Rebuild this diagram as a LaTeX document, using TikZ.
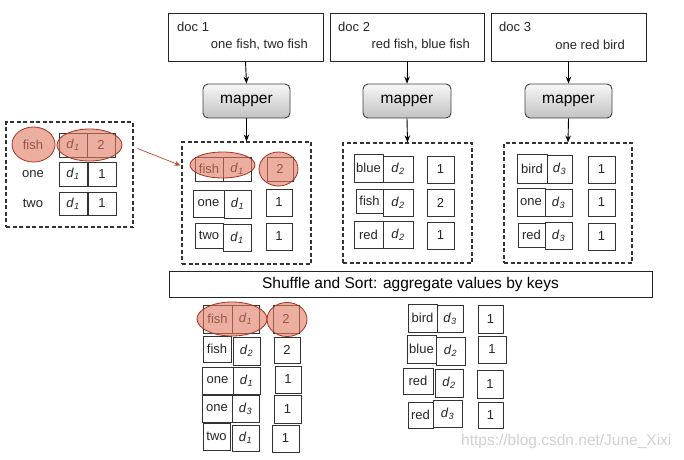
\documentclass[tikz,border=0pt]{standalone}
\usepackage{fontspec}
\setmainfont{Liberation Sans}
\usetikzlibrary{shapes.geometric,arrows.meta,calc}
\newcommand\dd[1]{\textit{d}\textsubscript{\textit{#1}}}
\newcommand\cellat[6]{\node[cellbox, minimum width={(#4)-(#2)}, minimum height={(#5)-(#3)}] (#1) at ({((#2)+(#4))/2},{((#3)+(#5))/2}) {#6};}
\newcommand\rectat[6]{\node[#6, minimum width={(#4)-(#2)}, minimum height={(#5)-(#3)}] (#1) at ({((#2)+(#4))/2},{((#3)+(#5))/2}) {};}
\newcommand\hiell[5]{\node[hiellipse, minimum width=#4, minimum height=#5] (#1) at (#2,#3) {};}
\tikzset{
  cellbox/.style={draw=black!80, line width=0.8pt, inner sep=0pt, fill=white,
    font=\fontsize{13}{15}\selectfont, text=black!85},
  docbox/.style={draw=black!85, line width=0.9pt, inner sep=0pt, fill=white},
  mapperbox/.style={draw=black!75, line width=0.9pt, rounded corners=5pt, inner sep=0pt,
    top color=gray!6, bottom color=gray!48, font=\fontsize{15.5}{18}\selectfont},
  dashbox/.style={draw=black!80, line width=1.1pt, dash pattern=on 4pt off 2.5pt, inner sep=0pt},
  shufbox/.style={draw=black!85, line width=0.9pt, inner sep=0pt, fill=white},
  hiellipse/.style={ellipse, draw={rgb,255:red,165;green,50;blue,30}, line width=0.8pt,
    fill={rgb,255:red,222;green,120;blue,95}, fill opacity=0.6, inner sep=0pt},
  plaintext/.style={inner sep=0pt, font=\fontsize{13}{15}\selectfont, text=black!85},
  doctext/.style={inner sep=0pt, font=\fontsize{13}{15}\selectfont, text=black!85},
  flow/.style={-{Stealth[length=7pt,width=5.5pt]}, line width=0.9pt, draw=black},
}
\begin{document}
\begin{tikzpicture}[x=1pt,y=-1pt]
\useasboundingbox[fill=white] (0,0) rectangle (684,459);

% documents
\rectat{doc1}{168}{13}{323}{61}{docbox}
\rectat{doc2}{330}{13}{484}{61}{docbox}
\rectat{doc3}{491}{13}{646}{61}{docbox}
\node[doctext, anchor=west] (doc1t) at (177,27) {doc 1};
\node[doctext, anchor=east] (doc1s) at (308,45) {one fish, two fish};
\node[doctext, anchor=west] (doc2t) at (338,27) {doc 2};
\node[doctext, anchor=east] (doc2s) at (470,45) {red fish, blue fish};
\node[doctext, anchor=west] (doc3t) at (499,27) {doc 3};
\node[doctext, anchor=east] (doc3s) at (625,45) {one red bird};

% mappers
\node[mapperbox, minimum width=87, minimum height=34] (m1) at (246.5,101) {mapper};
\node[mapperbox, minimum width=88, minimum height=34] (m2) at (407,101) {mapper};
\node[mapperbox, minimum width=87, minimum height=34] (m3) at (568.5,101) {mapper};

% dashed boxes
\rectat{box1}{182}{142}{311}{264}{dashbox}
\rectat{box2}{343}{143}{472}{263}{dashbox}
\rectat{box3}{504}{143}{632}{263}{dashbox}
\rectat{lbox}{6}{122}{133}{227}{dashbox}

\draw[flow] (doc1.south) -- (m1.north);
\draw[flow] (doc2.south) -- (m2.north);
\draw[flow] (doc3.south) -- (m3.north);
\draw[flow] (m1.south) -- (box1.north);
\draw[flow] (m2.south) -- (box2.north);
\draw[flow] (m3.south) -- (box3.north);

% left box
\node[plaintext] (lk1) at (33,145) {fish};
\cellat{ld1}{59}{133}{87}{157}{\dd{1}}
\cellat{lv1}{87}{133}{115}{157}{2}
\node[plaintext] (lk2) at (33,174) {one};
\cellat{ld2}{59}{162}{87}{186}{\dd{1}}
\cellat{lv2}{88}{162}{116}{186}{1}
\node[plaintext] (lk3) at (33,203) {two};
\cellat{ld3}{59}{192}{87}{215}{\dd{1}}
\cellat{lv3}{88}{192}{116}{215}{1}
\hiell{le1}{33.5}{144.5}{43}{35}
\hiell{le2}{89.5}{145}{65}{32}

% box 1
\cellat{a1k}{195}{157}{223}{181}{fish}
\cellat{a1d}{223}{157}{251}{181}{\dd{1}}
\cellat{a1v}{267}{157}{293}{181}{2}
\cellat{a2k}{193}{190}{224}{217}{one}
\cellat{a2d}{224}{190}{251}{218}{\dd{1}}
\cellat{a2v}{266}{189}{292}{216}{1}
\cellat{a3k}{195}{223}{223}{248}{two}
\cellat{a3d}{223}{224}{251}{251}{\dd{1}}
\cellat{a3v}{266}{223}{292}{250}{1}
\hiell{ae1}{222.5}{165}{65}{26}
\hiell{ae2}{278.5}{169}{39}{34}

% box 2
\cellat{b1k}{354}{154}{383}{182}{blue}
\cellat{b1d}{383}{156}{413}{182}{\dd{2}}
\cellat{b1v}{427}{156}{454}{183}{1}
\cellat{b2k}{356}{189}{383}{213}{fish}
\cellat{b2d}{383}{189}{413}{216}{\dd{2}}
\cellat{b2v}{427}{189}{454}{216}{2}
\cellat{b3k}{354}{221}{383}{248}{red}
\cellat{b3d}{383}{221}{413}{248}{\dd{2}}
\cellat{b3v}{427}{222}{454}{249}{1}

% box 3
\cellat{c1k}{517}{154}{547}{183}{bird}
\cellat{c1d}{547}{155}{572}{183}{\dd{3}}
\cellat{c1v}{588}{156}{615}{183}{1}
\cellat{c2k}{517}{188}{545}{216}{one}
\cellat{c2d}{545}{189}{572}{216}{\dd{3}}
\cellat{c2v}{588}{189}{615}{216}{1}
\cellat{c3k}{518}{223}{545}{247}{red}
\cellat{c3d}{545}{222}{572}{249}{\dd{3}}
\cellat{c3v}{588}{223}{615}{250}{1}

% arrow from left box to box 1
\coordinate (arrS) at ($(lbox.north east)+(4,27)$);
\coordinate (arrE) at ($(box1.north west)+(-1,24)$);
\draw[-{Stealth[length=6pt,width=5pt]}, line width=0.7pt, draw={rgb,255:red,190;green,70;blue,40}] (arrS) -- (arrE);

% shuffle
\node[shufbox, minimum width=483, minimum height=26, font=\fontsize{15.5}{18}\selectfont] (shuf) at (410.5,284) {Shuffle and Sort: aggregate values by keys};

% bottom left
\cellat{e1k}{203}{305}{232}{333}{fish}
\cellat{e1d}{232}{305}{259}{333}{\dd{1}}
\cellat{e1v}{273}{305}{299}{333}{2}
\cellat{e2k}{203}{336}{231}{362}{fish}
\cellat{e2d}{233}{337}{260}{365}{\dd{2}}
\cellat{e2v}{274}{337}{300}{363}{2}
\cellat{e3k}{202}{367}{233}{394}{one}
\cellat{e3d}{233}{367}{260}{394}{\dd{1}}
\cellat{e3v}{275}{366}{301}{393}{1}
\cellat{e4k}{202}{395}{232}{422}{one}
\cellat{e4d}{232}{395}{259}{422}{\dd{3}}
\cellat{e4v}{274}{395}{301}{423}{1}
\cellat{e5k}{203}{423}{230}{450}{two}
\cellat{e5d}{232}{425}{259}{451}{\dd{1}}
\cellat{e5v}{272}{425}{299}{452}{1}
\hiell{ee1}{232}{319}{70}{34}
\hiell{ee2}{287}{319.5}{40}{34}

% bottom right
\cellat{f1k}{408}{304}{437}{332}{bird}
\cellat{f1d}{437}{305}{463}{332}{\dd{3}}
\cellat{f1v}{478}{305}{503}{333}{1}
\cellat{f2k}{407}{335}{436}{363}{blue}
\cellat{f2d}{436}{337}{465}{365}{\dd{2}}
\cellat{f2v}{478}{336}{506}{363}{1}
\cellat{f3k}{403}{368}{433}{394}{red}
\cellat{f3d}{435}{369}{463}{397}{\dd{2}}
\cellat{f3v}{477}{370}{503}{398}{1}
\cellat{f4k}{408}{402}{433}{428}{red}
\cellat{f4d}{433}{400}{462}{427}{\dd{3}}
\cellat{f4v}{478}{402}{503}{428}{1}

% watermark
\node[inner sep=0pt, anchor=west, text=black!18, font=\fontsize{15.5}{18}\selectfont] (wm) at (461,441) {https://blog.csdn.net/June\_Xixi};
\end{tikzpicture}
\end{document}
